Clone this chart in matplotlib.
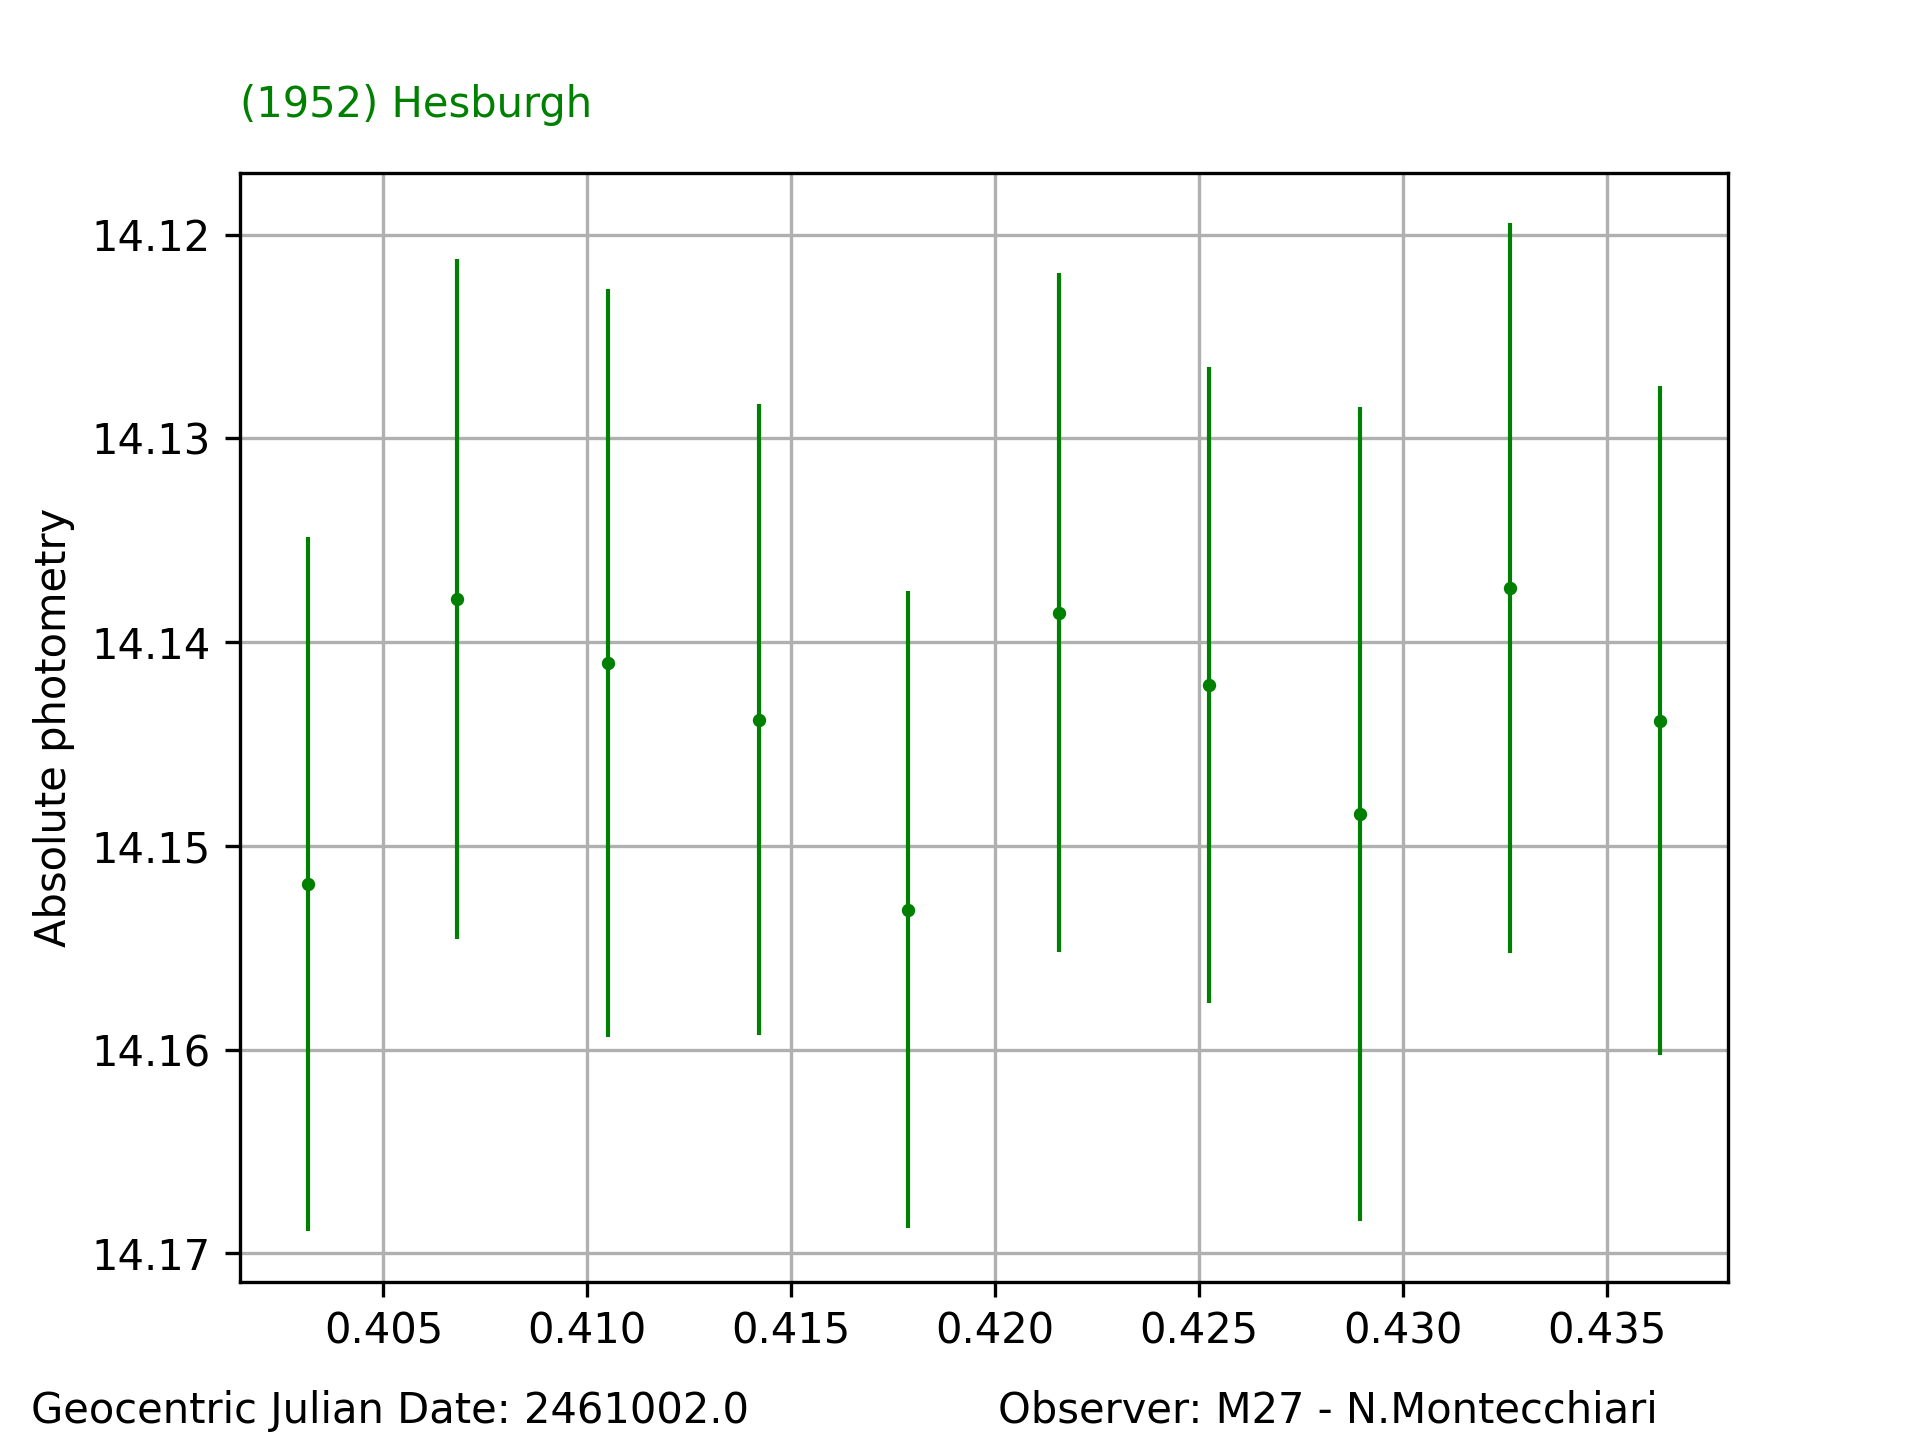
import matplotlib
matplotlib.use('Agg')
import matplotlib.pyplot as plt
import numpy as np

# time (fraction of day after JD 2461002.0), magnitude and error
jd = [0.40314, 0.40680, 0.41050, 0.41420, 0.41787,
      0.42156, 0.42526, 0.42896, 0.43263, 0.43632]
mag = [14.15187, 14.13789, 14.14102, 14.14380, 14.15313,
       14.13855, 14.14211, 14.14843, 14.13735, 14.14386]
err = [0.01705, 0.01669, 0.01837, 0.01550, 0.01563,
       0.01666, 0.01563, 0.01997, 0.01792, 0.01642]

fig, ax = plt.subplots(figsize=(6.4, 4.8), dpi=300)

ax.errorbar(jd, mag, yerr=err, fmt='o', color='green', markersize=2.2,
            elinewidth=1, capsize=0)
ax.invert_yaxis()
ax.grid(True)
ax.set_axisbelow(True)

ax.set_ylabel('Absolute photometry')
ax.set_title('(1952) Hesburgh', loc='left', color='green', fontsize=10, pad=13.5)

fig.text(0.016, 0.012, 'Geocentric Julian Date: 2461002.0')
fig.text(0.52, 0.012, 'Observer: M27 - N.Montecchiari')

fig.savefig('out.png', dpi=300)
